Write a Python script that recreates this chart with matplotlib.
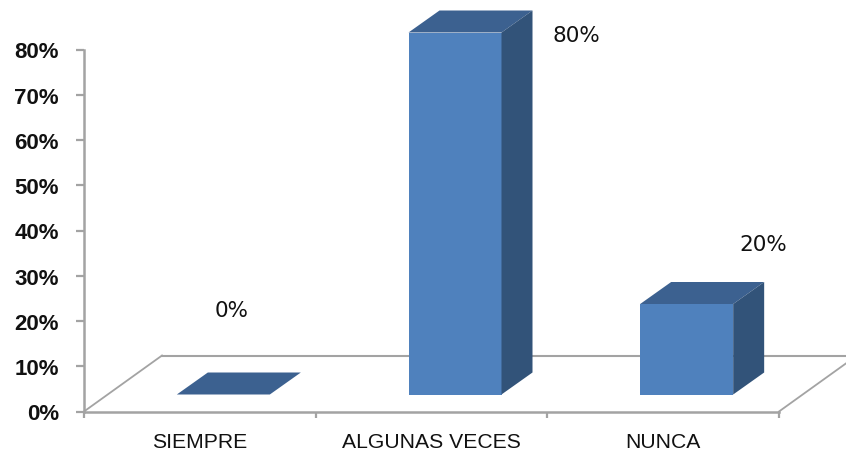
import matplotlib
matplotlib.use("Agg")
import matplotlib.pyplot as plt
from matplotlib.patches import Polygon

categories = ["SIEMPRE", "ALGUNAS VECES", "NUNCA"]
values = [0, 80, 20]
value_labels = ["0%", "80%", "20%"]
y_ticks = [0, 10, 20, 30, 40, 50, 60, 70, 80]

W, H = 846, 452
LEFT, RIGHT, BASE, TOP = 84, 779, 412.5, 50.5  # plot box in pixels
DEPTH_X, DEPTH_Y = 31, 22                      # bar depth in pixels
FLOOR_X, FLOOR_Y = 78, 56                      # floor depth in pixels
FRONT, TOP_FACE, SIDE = "#4f81bd", "#3c6190", "#325379"
AXIS = "#a3a3a3"

fig = plt.figure(figsize=(W / 100, H / 100), dpi=100, facecolor="white")
ax = fig.add_axes([LEFT / W, 1 - BASE / H, (RIGHT - LEFT) / W, (BASE - TOP) / H])
ax.set_xlim(0, len(categories))
ax.set_ylim(0, 80)
ax.patch.set_visible(False)

px_x = len(categories) / (RIGHT - LEFT)   # data units per pixel
px_y = 80 / (BASE - TOP)

# Floor of the 3D box
dx_f, dy_f = FLOOR_X * px_x, FLOOR_Y * px_y
ax.plot([0, dx_f], [0, dy_f], color=AXIS, lw=1.3, clip_on=False, zorder=1)
ax.plot([len(categories), len(categories) + dx_f], [0, dy_f], color=AXIS, lw=1.3, clip_on=False, zorder=1)
ax.plot([dx_f, len(categories) + dx_f], [dy_f, dy_f], color=AXIS, lw=1.5, clip_on=False, zorder=1)

# Prism bars: front face, roof and right side
bar_w = 93 * px_x
dx, dy = DEPTH_X * px_x, DEPTH_Y * px_y
base = 17 * px_y
shift = 23.5 * px_x
for i, v in enumerate(values):
    x0 = i + 0.5 + shift - bar_w / 2
    x1 = x0 + bar_w
    y1 = base + v
    faces = [
        ([(x0, base), (x1, base), (x1, y1), (x0, y1)], FRONT),
        ([(x0, y1), (x1, y1), (x1 + dx, y1 + dy), (x0 + dx, y1 + dy)], TOP_FACE),
        ([(x1, base), (x1 + dx, base + dy), (x1 + dx, y1 + dy), (x1, y1)], SIDE),
    ]
    for pts, color in faces:
        ax.add_patch(Polygon(pts, closed=True, facecolor=color, edgecolor="none",
                             clip_on=False, zorder=3))

# Value labels sit up and to the right of each bar
label_pos = [(232, 311), (576, 36), (763, 245)]
for (px, py), text in zip(label_pos, value_labels):
    fig.text(px / W, 1 - py / H, text, ha="center", va="center",
             fontsize=15.5, family="DejaVu Sans", color="#111111")

for side in ("top", "right"):
    ax.spines[side].set_visible(False)
for side in ("left", "bottom"):
    ax.spines[side].set_color(AXIS)
    ax.spines[side].set_linewidth(1.8)

ax.set_yticks(y_ticks)
ax.set_yticklabels([f"{t}%" for t in y_ticks], fontsize=16, family="Liberation Sans",
                   fontweight="bold", color="#111111")
ax.tick_params(axis="y", length=6, width=1.6, color=AXIS, pad=12)

ax.set_xticks(range(len(categories) + 1))
ax.set_xticklabels([])
ax.tick_params(axis="x", which="major", length=4.5, width=1.6, color=AXIS)
ax.set_xticks([i + 0.5 for i in range(len(categories))], minor=True)
ax.set_xticklabels(categories, minor=True, fontsize=15.2, family="Liberation Sans", color="#111111")
ax.tick_params(axis="x", which="minor", length=0, pad=14.5)

fig.savefig("out.png", dpi=100)
